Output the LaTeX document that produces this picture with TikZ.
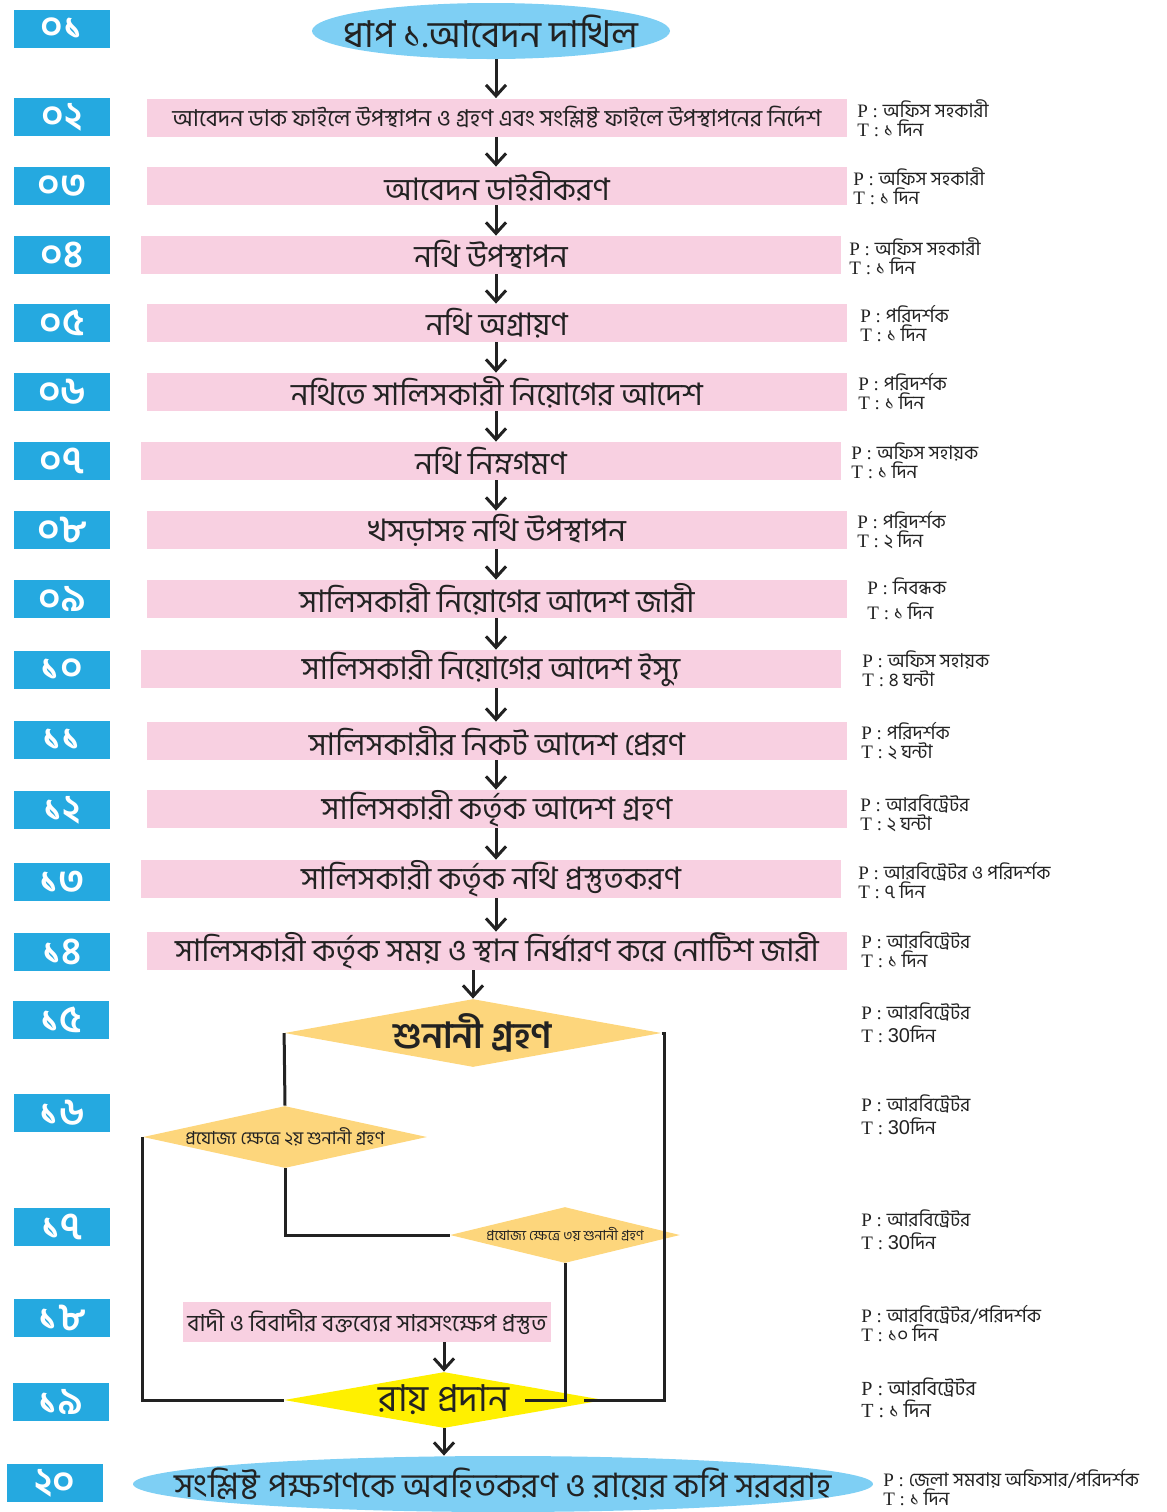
\documentclass[tikz,border=0pt]{standalone}
\usepackage{fontspec}
\setmainfont{Liberation Serif}
\newfontfamily\bn[Script=Bengali]{Hind Siliguri}
\newfontfamily\lsans{Liberation Sans}
\usetikzlibrary{shapes.geometric,arrows.meta,calc}
\definecolor{numblue}{HTML}{25A9E0}
\definecolor{ellblue}{HTML}{7ECFF4}
\definecolor{boxpink}{HTML}{F8D0E1}
\definecolor{dorange}{HTML}{FDD67C}
\definecolor{dyellow}{HTML}{FFF000}
\definecolor{linec}{HTML}{222222}
\newcommand\ptinfo[2]{P : {\bn #1}\\T : {\bn #2}}
\newcommand\ptthirty[1]{P : {\bn #1}\\T :\ {\lsans\fontsize{10}{9.5}\selectfont 30}{\bn দিন}}
\begin{document}
\begin{tikzpicture}[x=0.5pt,y=-0.5pt,
  numbox/.style={fill=numblue,minimum width=48pt,minimum height=19pt,inner sep=0,text=white,font=\bn\bfseries\fontsize{19}{19}\selectfont},
  stepbox/.style={fill=boxpink,minimum width=350pt,minimum height=19pt,inner sep=0,text=linec,font=\bn\fontsize{15.5}{15.5}\selectfont},
  arr/.style={draw=linec,line width=1.5pt,-{Straight Barb[length=5.5pt,width=10pt,line width=1.5pt]}},
  conn/.style={draw=linec,line width=1.5pt},
  ptnote/.style={anchor=north west,inner sep=0,text=linec,font=\fontsize{9.5}{9.5}\selectfont,align=left},
  dia/.style={diamond,inner sep=0,aspect=5}
]
\useasboundingbox (0,0) rectangle (1167,1512);

% number boxes
\node[numbox] (n01) at (62,29) {০১};
\node[numbox] (n02) at (62,117) {০২};
\node[numbox] (n03) at (62,186) {০৩};
\node[numbox] (n04) at (62,255) {০৪};
\node[numbox] (n05) at (62,323) {০৫};
\node[numbox] (n06) at (62,392) {০৬};
\node[numbox] (n07) at (62,461) {০৭};
\node[numbox] (n08) at (62,530) {০৮};
\node[numbox] (n09) at (62,599) {০৯};
\node[numbox] (n10) at (62,670) {১০};
\node[numbox] (n11) at (62,740) {১১};
\node[numbox] (n12) at (62,810) {১২};
\node[numbox] (n13) at (62,882) {১৩};
\node[numbox] (n14) at (62,952) {১৪};
\node[numbox] (n15) at (61,1020) {১৫};
\node[numbox] (n16) at (62,1113) {১৬};
\node[numbox] (n17) at (62,1227) {১৭};
\node[numbox] (n18) at (62,1318) {১৮};
\node[numbox] (n19) at (61,1402) {১৯};
\node[numbox] (n20) at (55,1483) {২০};

% top ellipse
\node[ellipse,fill=ellblue,minimum width=179pt,minimum height=28pt,inner sep=0,
  label={[text=linec,font=\bn\fontsize{18.5}{18.5}\selectfont]center:ধাপ ১.আবেদন দাখিল}] (e01) at (491,31) {};

% step boxes
\node[stepbox,font=\bn\fontsize{11.6}{11.6}\selectfont] (b02) at (497,117.5) {আবেদন ডাক ফাইলে উপস্থাপন ও গ্রহণ এবং সংশ্লিষ্ট ফাইলে উপস্থাপনের নির্দেশ};
\node[stepbox] (b03) at (497,186) {আবেদন ডাইরীকরণ};
\node[stepbox] (b04) at (491,255) {নথি উপস্থাপন};
\node[stepbox] (b05) at (497,323) {নথি অগ্রায়ণ};
\node[stepbox] (b06) at (497,392) {নথিতে সালিসকারী নিয়োগের আদেশ};
\node[stepbox] (b07) at (491,461) {নথি নিম্নগমণ};
\node[stepbox] (b08) at (497,530) {খসড়াসহ নথি উপস্থাপন};
\node[stepbox] (b09) at (497,599) {সালিসকারী নিয়োগের আদেশ জারী};
\node[stepbox] (b10) at (491,669) {সালিসকারী নিয়োগের আদেশ ইস্যু};
\node[stepbox] (b11) at (497,741) {সালিসকারীর নিকট আদেশ প্রেরণ};
\node[stepbox] (b12) at (497,809) {সালিসকারী কর্তৃক আদেশ গ্রহণ};
\node[stepbox] (b13) at (491,879) {সালিসকারী কর্তৃক নথি প্রস্তুতকরণ};
\node[stepbox] (b14) at (497,951) {সালিসকারী কর্তৃক সময় ও স্থান নির্ধারণ করে নোটিশ জারী};

% decision part
\node[dia,fill=dorange,minimum width=188.5pt,minimum height=34pt,
  label={[text=linec,font=\bn\bfseries\fontsize{18}{18}\selectfont]center:শুনানী গ্রহণ}] (d15) at (473,1033) {};
\node[dia,fill=dorange,minimum width=142pt,minimum height=31pt,
  label={[text=linec,font=\bn\fontsize{9}{9}\selectfont]center:প্রযোজ্য ক্ষেত্রে ২য় শুনানী গ্রহণ}] (d16) at (285,1137) {};
\node[dia,fill=dorange,minimum width=115pt,minimum height=28pt,
  label={[text=linec,font=\bn\fontsize{7}{7}\selectfont]center:প্রযোজ্য ক্ষেত্রে ৩য় শুনানী গ্রহণ}] (d17) at (565,1235) {};
\node[fill=boxpink,minimum width=184pt,minimum height=20pt,inner sep=0,text=linec,font=\bn\fontsize{11.7}{11.7}\selectfont] (b18) at (367,1322) {বাদী ও বিবাদীর বক্তব্যের সারসংক্ষেপ প্রস্তুত};
\node[dia,fill=dyellow,minimum width=160pt,minimum height=28pt,
  label={[text=linec,font=\bn\fontsize{18.5}{18.5}\selectfont]center:রায় প্রদান}] (d19) at (444,1400) {};
\node[ellipse,fill=ellblue,minimum width=370pt,minimum height=28pt,inner sep=0,
  label={[text=linec,font=\bn\fontsize{16.8}{16.8}\selectfont]center:সংশ্লিষ্ট পক্ষগণকে অবহিতকরণ ও রায়ের কপি সরবরাহ}] (e20) at (503,1484) {};

% coordinates
\coordinate (ax) at (496,0);
\coordinate (c19r) at (584,1400);
\coordinate (c19m) at (525,1400);

% main arrows
\draw[arr] (e01.south -| ax) -- (b02.north -| ax);
\draw[arr] (b02.south -| ax) -- (b03.north -| ax);
\draw[arr] (b03.south -| ax) -- (b04.north -| ax);
\draw[arr] (b04.south -| ax) -- (b05.north -| ax);
\draw[arr] (b05.south -| ax) -- (b06.north -| ax);
\draw[arr] (b06.south -| ax) -- (b07.north -| ax);
\draw[arr] (b07.south -| ax) -- (b08.north -| ax);
\draw[arr] (b08.south -| ax) -- (b09.north -| ax);
\draw[arr] (b09.south -| ax) -- (b10.north -| ax);
\draw[arr] (b10.south -| ax) -- (b11.north -| ax);
\draw[arr] (b11.south -| ax) -- (b12.north -| ax);
\draw[arr] (b12.south -| ax) -- (b13.north -| ax);
\draw[arr] (b13.south -| ax) -- (b14.north -| ax);
\draw[arr] (b14.south -| d15.north) -- (d15.north);

% decision connectors
\draw[conn] (d15.west) -- (d16.north);
\draw[conn] (d15.east) -- ++(3,0) |- (c19r);
\draw[conn] (d16.west) |- (d19.west);
\draw[conn] (d16.south) |- (d17.west);
\draw[conn] (d17.south) |- (c19m);
\draw[arr] (b18.south -| d19.north) -- (d19.north);
\draw[arr] (d19.south) -- (e20.north -| d19.south);

% P / T notes
\node[ptnote] (p02) at (857,99) {\ptinfo{অফিস সহকারী}{১ দিন}};
\node[ptnote] (p03) at (853,167) {\ptinfo{অফিস সহকারী}{১ দিন}};
\node[ptnote] (p04) at (849,237) {\ptinfo{অফিস সহকারী}{১ দিন}};
\node[ptnote] (p05) at (860,305) {\ptinfo{পরিদর্শক}{১ দিন}};
\node[ptnote] (p06) at (858,373) {\ptinfo{পরিদর্শক}{১ দিন}};
\node[ptnote] (p07) at (851,442) {\ptinfo{অফিস সহায়ক}{১ দিন}};
\node[ptnote] (p08) at (857,511) {\ptinfo{পরিদর্শক}{২ দিন}};
\node[ptnote,font=\fontsize{9.5}{12.5}\selectfont] (p09) at (867,577) {\ptinfo{নিবন্ধক}{১ দিন}};
\node[ptnote] (p10) at (862,650) {\ptinfo{অফিস সহায়ক}{৪ ঘন্টা}};
\node[ptnote] (p11) at (861,722) {\ptinfo{পরিদর্শক}{২ ঘন্টা}};
\node[ptnote] (p12) at (860,794) {\ptinfo{আরবিট্রেটর}{২ ঘন্টা}};
\node[ptnote] (p13) at (858,862) {\ptinfo{আরবিট্রেটর ও পরিদর্শক}{৭ দিন}};
\node[ptnote] (p14) at (861,931) {\ptinfo{আরবিট্রেটর}{১ দিন}};
\node[ptnote,font=\fontsize{9.5}{11.5}\selectfont] (p15) at (861,1002) {\ptthirty{আরবিট্রেটর}};
\node[ptnote,font=\fontsize{9.5}{11.5}\selectfont] (p16) at (861,1094) {\ptthirty{আরবিট্রেটর}};
\node[ptnote,font=\fontsize{9.5}{11.5}\selectfont] (p17) at (861,1209) {\ptthirty{আরবিট্রেটর}};
\node[ptnote] (p18) at (861,1305) {\ptinfo{আরবিট্রেটর/পরিদর্শক}{১০ দিন}};
\node[ptnote,font=\fontsize{10}{11}\selectfont] (p19) at (861,1377) {\ptinfo{আরবিট্রেটর}{১ দিন}};
\node[ptnote] (p20) at (883,1469) {\ptinfo{জেলা সমবায় অফিসার/পরিদর্শক}{১ দিন}};
\end{tikzpicture}
\end{document}
